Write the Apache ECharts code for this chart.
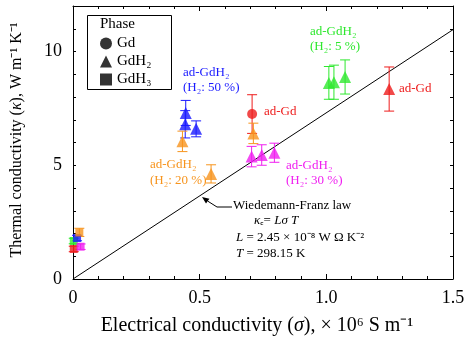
<!DOCTYPE html>
<html>
<head>
<meta charset="utf-8">
<script src="https://cdn.jsdelivr.net/npm/echarts@6/dist/echarts.min.js"></script>
<style>
  html, body { margin: 0; padding: 0; background: #fff; }
  #main { width: 472px; height: 346px; }
</style>
</head>
<body>
<div id="main"></div>
<script>
// [sigma, kappa, error]
var adGdCircle = [[0.707, 7.25, 0.85]];
var adGdTri = [[1.248, 8.35, 0.97]];
var h5Tri = [[1.010, 8.62, 0.72], [1.030, 8.65, 0.75], [1.074, 8.88, 0.75]];
var h50Tri = [[0.445, 7.30, 0.55], [0.443, 6.80, 0.60], [0.486, 6.60, 0.35]];
var h20Tri = [[0.432, 6.05, 0.45], [0.545, 4.62, 0.40], [0.712, 6.40, 0.45]];
var h30Tri = [[0.705, 5.38, 0.45], [0.745, 5.45, 0.45], [0.795, 5.55, 0.42]];
// GdH3 (squares), near sigma = 0
var bulkRed = [[0.003, 1.32, 0.12]];
var bulkGreen = [[0.003, 1.67, 0.12]];
var bulkBlue = [[0.016, 1.80, 0.12]];
var bulkOrange = [[0.025, 2.05, 0.18]];
var bulkMagenta = [[0.030, 1.42, 0.12]];
// Wiedemann-Franz line end points
var wfLine = [[0, 0], [1.5, 10.96]];

var xTicks = ['0', '0.5', '1.0', '1.5'];

var RED = '#ee1c1c', GREEN = '#2ee82e', BLUE = '#1a1aff', ORANGE = '#f7941d', MAGENTA = '#f01ef0';
var FONT = '"Liberation Serif", "Times New Roman", serif';

function items(arr, color) {
    return arr.map(function (d) {
        return { value: d, itemStyle: { color: color } };
    });
}

var circleData = items(adGdCircle, RED);
var triData = [].concat(
    items(adGdTri, RED), items(h5Tri, GREEN), items(h50Tri, BLUE),
    items(h20Tri, ORANGE), items(h30Tri, MAGENTA)
);
var squareData = [].concat(
    items(bulkRed, RED), items(bulkGreen, GREEN), items(bulkBlue, BLUE),
    items(bulkOrange, ORANGE), items(bulkMagenta, MAGENTA)
);
var errData = [].concat(circleData, triData, squareData);

var myChart = echarts.init(document.getElementById('main'));

function txt(x, y, text, color, size) {
    return {
        type: 'text', left: x, top: y - (size || 13) / 2 - 1, z: 100,
        style: {
            text: text, fill: color || '#000',
            fontFamily: FONT, fontSize: size || 13,
            rich: { i: { fontStyle: 'italic', fontFamily: FONT, fontSize: size || 13, fill: color || '#000' } }
        }
    };
}

// axis titles, centred on a point
function title(x, y, text, size, rot) {
    return {
        type: 'text', x: x, y: y, rotation: rot || 0, z: 100,
        style: {
            text: text, fill: '#000', align: 'center', verticalAlign: 'middle',
            fontFamily: FONT, fontSize: size,
            rich: { i: { fontStyle: 'italic', fontFamily: FONT, fontSize: size } }
        }
    };
}

var axisCommon = {
    min: 0,
    axisLine: { onZero: false, lineStyle: { color: '#000', width: 1 } },
    splitLine: { show: false },
    axisTick: { inside: true, length: 5, lineStyle: { color: '#000' } },
    minorTick: { show: true, splitNumber: 5, length: 3, lineStyle: { color: '#000' } },
    axisLabel: { color: '#000', fontFamily: FONT, fontSize: 18 }
};

var option = {
    animation: false,
    grid: { left: 73, right: 19, top: 6, bottom: 67 },
    legend: {
        data: ['Gd', 'GdH₂', 'GdH₃'],
        orient: 'vertical',
        left: 100, top: 36, z: 20, padding: 0,
        itemWidth: 12, itemHeight: 12, itemGap: 3,
        textStyle: { fontFamily: FONT, fontSize: 15, color: '#000', lineHeight: 14 }
    },
    xAxis: [
        Object.assign({}, axisCommon, {
            type: 'value', max: 1.5, interval: 0.5,
            axisLabel: Object.assign({}, axisCommon.axisLabel, {
                margin: 10,
                formatter: function (v) { return xTicks[Math.round(v / 0.5)]; }
            })
        }),
        Object.assign({}, axisCommon, {
            type: 'value', max: 1.5, interval: 0.5, position: 'top',
            axisLabel: { show: false }
        })
    ],
    yAxis: [
        Object.assign({}, axisCommon, {
            type: 'value', max: 12, interval: 1,
            axisTick: { inside: true, length: 3, lineStyle: { color: '#000' } },
            minorTick: { show: false },
            axisLabel: Object.assign({}, axisCommon.axisLabel, {
                margin: 11,
                formatter: function (v) { return v % 5 === 0 ? String(v) : ''; }
            })
        }),
        Object.assign({}, axisCommon, {
            type: 'value', max: 12, interval: 1, position: 'right',
            axisTick: { inside: true, length: 3, lineStyle: { color: '#000' } },
            minorTick: { show: false },
            axisLabel: { show: false }
        })
    ],
    series: [
        {
            name: 'wf', type: 'line', data: wfLine, symbol: 'none', silent: true,
            lineStyle: { color: '#000', width: 1 }, z: 1
        },
        {
            name: 'err', type: 'custom', data: errData, z: 2, silent: true,
            encode: { x: 0, y: 1 },
            renderItem: function (params, api) {
                var x = api.value(0), y = api.value(1), e = api.value(2);
                var top = api.coord([x, y + e]);
                var bot = api.coord([x, y - e]);
                var c = api.visual('color');
                var w = 5;
                var st = { stroke: c, lineWidth: 1 };
                return {
                    type: 'group',
                    children: [
                        { type: 'line', shape: { x1: top[0], y1: top[1], x2: bot[0], y2: bot[1] }, style: st },
                        { type: 'line', shape: { x1: top[0] - w, y1: top[1], x2: top[0] + w, y2: top[1] }, style: st },
                        { type: 'line', shape: { x1: bot[0] - w, y1: bot[1], x2: bot[0] + w, y2: bot[1] }, style: st }
                    ]
                };
            }
        },
        {
            name: 'Gd', type: 'scatter', symbol: 'circle', symbolSize: 10,
            itemStyle: { color: '#000' }, data: circleData, z: 3
        },
        {
            name: 'GdH₂', type: 'scatter', symbol: 'triangle', symbolSize: 12,
            itemStyle: { color: '#000' }, data: triData, z: 3
        },
        {
            name: 'GdH₃', type: 'scatter', symbol: 'rect', symbolSize: 8,
            itemStyle: { color: '#000' }, data: squareData, z: 3
        }
    ],
    graphic: [
        {
            type: 'rect', left: 87, top: 15, z: 0,
            shape: { width: 84, height: 74 },
            style: { fill: 'rgba(255,255,255,0)', stroke: '#000', lineWidth: 1 }
        },
        txt(100, 25, 'Phase', '#000', 15),
        txt(183, 74, 'ad-GdH₂', BLUE),
        txt(183, 89, '(H₂: 50 %)', BLUE),
        txt(264, 113, 'ad-Gd', RED),
        txt(150, 166, 'ad-GdH₂', ORANGE),
        txt(150, 182, '(H₂: 20 %)', ORANGE),
        txt(286, 167, 'ad-GdH₂', MAGENTA),
        txt(286, 182, '(H₂: 30 %)', MAGENTA),
        txt(310, 33, 'ad-GdH₂', GREEN),
        txt(310, 48, '(H₂: 5 %)', GREEN),
        txt(399, 90, 'ad-Gd', RED),
        txt(233, 207, 'Wiedemann-Franz law'),
        txt(254, 222, '{i|κ}ₑ= {i|Lσ T}'),
        txt(236, 239, '{i|L} = 2.45 × 10⁻⁸ W Ω K⁻²'),
        txt(236, 255, '{i|T} = 298.15 K'),
        title(257, 326, 'Electrical conductivity ({i|σ}), × 10⁶ S m⁻¹', 20, 0),
        title(17, 140, 'Thermal conductivity ({i|κ}), W m⁻¹ K⁻¹', 16, Math.PI / 2),
        {
            type: 'polyline', z: 100,
            shape: { points: [[232, 207], [217, 207], [207.7, 201.1]] },
            style: { stroke: '#000', lineWidth: 1, fill: null }
        },
        {
            type: 'polygon', z: 100,
            shape: { points: [[202, 197], [209.4, 198.7], [206, 203.5]] },
            style: { fill: '#000' }
        }
    ]
};

myChart.setOption(option);
</script>
</body>
</html>
